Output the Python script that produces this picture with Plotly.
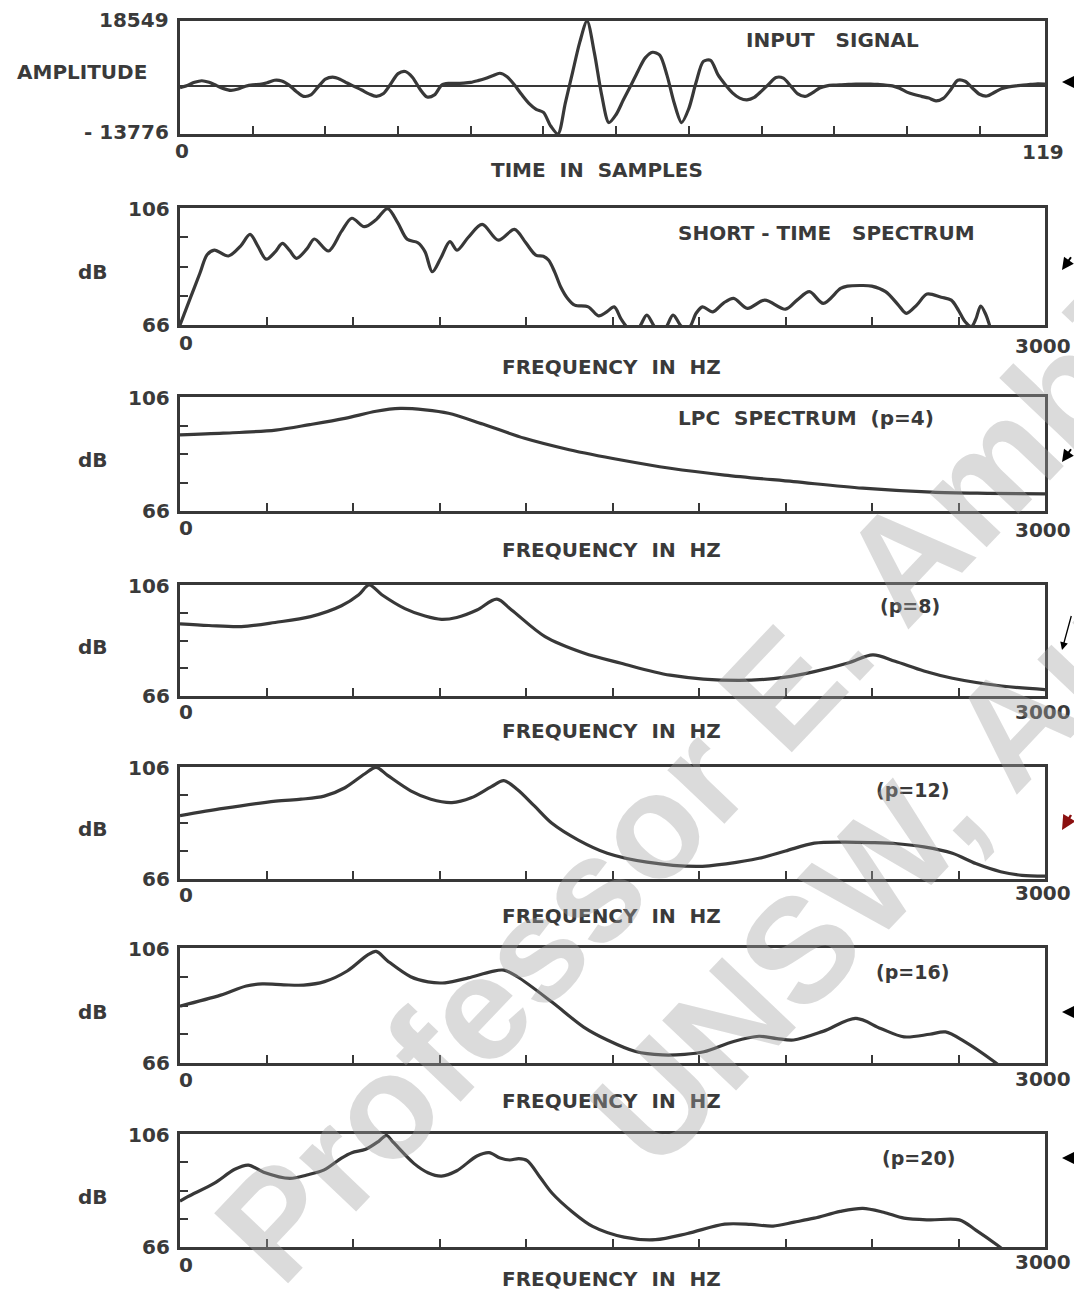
import plotly.graph_objects as go

# page is 1082x1298; the browser body adds an 8px margin, so the figure is 16px smaller
PAGE_W, PAGE_H = 1082, 1298
OFF = 8
W, H = PAGE_W - 2 * OFF, PAGE_H - 2 * OFF
INK = "#383838"
TXT = "#3a3a3a"
FONT = "DejaVu Sans"

# ---------------- data ----------------
samples = list(range(120))
signal = [-500, 100, 1000, 1450, 1000, 100, -800, -1300, -900, -100,
          300, 400, 900, 1600, 1400, 200, -1600, -3000, -2600, -300,
          1900, 2500, 1900, 800, -200, -1200, -2300, -3000, -2200, 600,
          3500, 4100, 2400, -900, -3200, -2600, 200, 700, 700, 800,
          1000, 1500, 2100, 2900, 3600, 2600, 300, -2500, -5000, -6700,
          -7600, -11500, -13776, -5000, 3800, 12500, 18549, 9500, -2500, -10500,
          -8200, -4000, 0, 4200, 8000, 9600, 8800, 3000, -5000, -10500,
          -6500, 1000, 7000, 7300, 3200, 400, -2000, -3500, -4000, -3300,
          -1500, 500, 2400, 2200, 0, -2300, -3000, -2000, -600, 0,
          200, 300, 400, 500, 500, 500, 400, 200, 0, -700,
          -1800, -2500, -3000, -3500, -4300, -3600, -1200, 1600, 1300, -600,
          -2400, -2900, -1900, -800, -300, 0, 200, 400, 600, 500]
amp_min, amp_max = -13776, 18549

st_freq = [0, 35, 69, 94, 119, 168, 210, 243, 270, 299, 330, 355, 380, 404, 440, 466,
           515, 560, 596, 639, 680, 720, 755, 788, 825, 850, 875, 905, 936, 961, 1000,
           1048, 1104, 1160, 1200, 1234, 1260, 1278, 1300, 1320, 1345, 1369, 1416, 1452,
           1480, 1506, 1530, 1560, 1590, 1619, 1650, 1680, 1710, 1740, 1765, 1790, 1812,
           1848, 1885, 1920, 1968, 2028, 2100, 2140, 2183, 2231, 2291, 2315, 2360, 2399,
           2447, 2490, 2519, 2555, 2591, 2640, 2675, 2700, 2723, 2745, 2760, 2777, 2795,
           2815, 2840]
st_db = [66, 75, 83.7, 90, 91.6, 89.6, 93, 97, 93, 88.5, 91, 93.9, 91.5, 88.8, 92, 95.4,
         91.3, 98, 102.5, 99.6, 102, 105.8, 101, 95.3, 94.1, 91, 84.2, 89, 94.5, 91.6, 96,
         100.4, 95, 98.7, 94, 89.9, 89.5, 88.2, 84, 79.1, 75, 72.8, 72.2, 69.1,
         70.5, 72.2, 68, 64.5, 65, 69.4, 65, 64.5, 69.4, 65.5, 65, 70, 72.2,
         70.5, 73.5, 75.1, 71.7, 74.5, 71.4, 74.5, 77.4, 73.4, 78.5, 79.3, 79.5, 79.3,
         77.4, 73, 70, 72.8, 76.6, 75.5, 74.5, 71, 67.1, 65.5, 68, 72.5, 69.5,
         64, 60]

p4_freq = [0, 150, 332, 450, 572, 680, 763, 850, 931, 1050, 1195, 1350, 1530, 1700,
           1889, 2128, 2368, 2607, 2800, 3000]
p4_db = [92.7, 93.3, 94.4, 96.3, 98.5, 101, 102, 101.5, 100.3, 96.5, 91.5, 87.5, 83.9, 81,
         78.6, 76.3, 74, 72.6, 72.2, 72]

p8_freq = [0, 100, 213, 330, 453, 560, 620, 656, 700, 780, 850, 907, 960, 1030, 1099,
           1150, 1266, 1400, 1530, 1700, 1937, 2100, 2200, 2320, 2403, 2480, 2580, 2679,
           2850, 3000]
p8_db = [92, 91.4, 91, 92.5, 94.6, 98.5, 102.5, 106, 102.5, 97.5, 94.8, 93.6, 94.3, 97,
         100.9, 97, 87.4, 81.5, 77.8, 73.5, 71.6, 72.8, 74.8, 78, 80.8, 78.5, 75, 72.4,
         69.6, 68.3]

p12_freq = [0, 150, 332, 420, 500, 572, 640, 680, 720, 800, 870, 943, 1010, 1080, 1123,
            1170, 1230, 1290, 1380, 1482, 1620, 1793, 1900, 2008, 2100, 2200, 2300, 2400,
            2488, 2580, 2679, 2760, 2846, 2920, 3000]
p12_db = [88.6, 91.2, 93.8, 94.5, 95.6, 98.6, 103.5, 105.9, 103, 97.5, 94.5, 93.3, 95, 99,
          101.1, 98, 92, 85.9, 80, 75.2, 72, 70.5, 71.5, 73.4, 76, 78.8, 79.2, 79,
          78.6, 77.5, 75.2, 71.5, 68.6, 67.3, 67]

p16_freq = [0, 141, 230, 285, 360, 429, 501, 580, 650, 680, 720, 800, 860, 919, 1000,
            1080, 1123, 1170, 1290, 1400, 1482, 1580, 1673, 1750, 1817, 1920, 2008, 2070,
            2128, 2230, 2344, 2430, 2511, 2600, 2655, 2720, 2823, 2880]
p16_db = [85.8, 89.6, 92.8, 93.5, 93.2, 93.1, 94.3, 98, 103.5, 104.8, 101.5, 96, 94.2,
          93.9, 95.6, 97.8, 98.3, 96, 87.2, 78.5, 74, 70, 68.8, 69, 69.9, 73.5, 75.3,
          74.5, 74, 77, 81.5, 78, 75.1, 76, 76.8, 73.5, 66.5, 62]

p20_freq = [0, 27, 118, 190, 237, 290, 381, 440, 500, 560, 596, 644, 690, 716, 740, 811,
            860, 907, 960, 1030, 1072, 1110, 1144, 1175, 1204, 1250, 1290, 1360, 1431,
            1540, 1649, 1760, 1889, 1980, 2057, 2130, 2200, 2290, 2368, 2440, 2511, 2600,
            2703, 2760, 2834, 2880]
p20_db = [82.2, 83.8, 88.5, 93.5, 95, 92.5, 90.3, 91.5, 93.3, 97.5, 99.4, 100.6, 103.5,
          105.5, 103, 95.6, 92.3, 91.1, 93, 98.2, 99.4, 97.5, 96.8, 97.3, 96.6, 90.5, 85.1,
          78.5, 73.3, 69.5, 68.6, 70.8, 74.1, 74, 73.4, 74.8, 76.2, 78.6, 79.7, 78.3, 76.2,
          75.6, 75.6, 72, 66.7, 63]

db_min, db_max = 66, 106
f_max = 3000
n_max = 119

spectra = [(st_freq, st_db, "SHORT - TIME   SPECTRUM"),
           (p4_freq, p4_db, "LPC  SPECTRUM  (p=4)"),
           (p8_freq, p8_db, "(p=8)"),
           (p12_freq, p12_db, "(p=12)"),
           (p16_freq, p16_db, "(p=16)"),
           (p20_freq, p20_db, "(p=20)")]

# ---------------- layout geometry (page pixels) ----------------
X0, X1 = 180, 1045
panels = [(21, 134), (208, 325), (397, 511), (585, 696), (767, 879), (948, 1063), (1134, 1247)]


def px(x):
    return (x - OFF) / W


def py(y):
    return 1 - (y - OFF) / H


fig = go.Figure()

fig.add_trace(go.Scatter(x=samples, y=signal, mode="lines", xaxis="x", yaxis="y",
                         line=dict(color=INK, width=3.2, shape="spline", smoothing=0.8),
                         showlegend=False, hoverinfo="skip"))

for i, (fx, fy, _) in enumerate(spectra, start=2):
    fig.add_trace(go.Scatter(x=fx, y=fy, mode="lines", xaxis=f"x{i}", yaxis=f"y{i}",
                             line=dict(color=INK, width=3.2, shape="spline", smoothing=0.9),
                             showlegend=False, hoverinfo="skip"))

layout = dict(width=W, height=H, margin=dict(l=0, r=0, t=0, b=0),
              paper_bgcolor="white", plot_bgcolor="white", showlegend=False)

axis_common = dict(showline=True, mirror=True, linecolor=INK, linewidth=2.6,
                   showgrid=False, zeroline=False, showticklabels=False,
                   ticks="inside", tickcolor=INK, tickwidth=2, ticklen=8)

for i, (t, b) in enumerate(panels, start=1):
    xk = "xaxis" if i == 1 else f"xaxis{i}"
    yk = "yaxis" if i == 1 else f"yaxis{i}"
    ya = "y" if i == 1 else f"y{i}"
    xa = "x" if i == 1 else f"x{i}"
    if i == 1:
        xax = dict(axis_common, domain=[px(X0), px(X1)], range=[0, n_max], anchor=ya,
                   tickvals=list(range(10, n_max, 10)))
        yax = dict(axis_common, domain=[py(b), py(t)], range=[amp_min, amp_max], anchor=xa,
                   ticks="", zeroline=True, zerolinecolor=INK, zerolinewidth=1.6)
    else:
        xax = dict(axis_common, domain=[px(X0), px(X1)], range=[0, f_max], anchor=ya,
                   tickvals=list(range(300, f_max, 300)))
        yax = dict(axis_common, domain=[py(b), py(t)], range=[db_min, db_max], anchor=xa,
                   tickvals=list(range(db_min + 10, db_max, 10)))
    layout[xk] = xax
    layout[yk] = yax

annotations = []


def ann(x, y, text, xanchor="center", size=20, color=TXT):
    annotations.append(dict(x=px(x), y=py(y), xref="paper", yref="paper", text=text,
                            showarrow=False, xanchor=xanchor, yanchor="middle",
                            font=dict(family=FONT, size=size, color=color, weight="bold")))


# panel 1 labels
ann(171, 20, str(amp_max), "right")
ann(171, 132, "- " + str(-amp_min), "right")
ann(82, 72, "AMPLITUDE")
ann(182, 151, "0")
ann(1043, 152, str(n_max))
ann(597, 170, "TIME  IN  SAMPLES")
ann(832, 40, "INPUT   SIGNAL")

# spectrum panels labels
title_pos = [(826, 233), (806, 418), (910, 606), (912, 790), (912, 972), (918, 1158)]
zero_y = [343, 528, 712, 895, 1080, 1265]
end_y = [346, 530, 712, 893, 1079, 1262]
freq_y = [367, 550, 731, 916, 1101, 1279]
for k, ((t, b), (fx, fy, title)) in enumerate(zip(panels[1:], spectra)):
    ann(172, t + 1, str(db_max), "right")
    ann(172, b, str(db_min), "right")
    ann(93, (t + b) / 2 + 6, "dB")
    ann(186, zero_y[k], "0")
    ann(1043, end_y[k], str(f_max))
    ann(611, freq_y[k], "FREQUENCY  IN  HZ")
    ann(title_pos[k][0], title_pos[k][1], title, size=20 if k < 2 else 19)

# arrows on the right
arrows = [(1062, 82, 26, 0, 2.2, "black"),
          (1062, 270, 24, -17, 2.0, "black"),
          (1062, 462, 24, -17, 2.0, "black"),
          (1062, 650, 20, -44, 1.3, "black"),
          (1062, 830, 24, -20, 2.4, "#8b1010"),
          (1062, 1012, 26, 0, 2.2, "black"),
          (1062, 1158, 26, 0, 2.2, "black")]
for hx, hy, dx, dy, wd, col in arrows:
    annotations.append(dict(x=px(hx), y=py(hy), xref="paper", yref="paper", text=" ",
                            showarrow=True, arrowhead=2, arrowsize=1.2, arrowwidth=wd,
                            arrowcolor=col, ax=dx, ay=dy, axref="pixel", ayref="pixel"))

# watermark
annotations.append(dict(x=px(945), y=py(655), xref="paper", yref="paper",
                        text="Professor E. Ambikairajah<br>UNSW, Australia",
                        showarrow=False, textangle=-46.5, xanchor="center", yanchor="middle",
                        font=dict(family="Liberation Sans", size=148,
                                  color="rgba(160,160,160,0.38)", weight="bold")))

layout["annotations"] = annotations
fig.update_layout(**layout)
fig.write_html("out.html")
